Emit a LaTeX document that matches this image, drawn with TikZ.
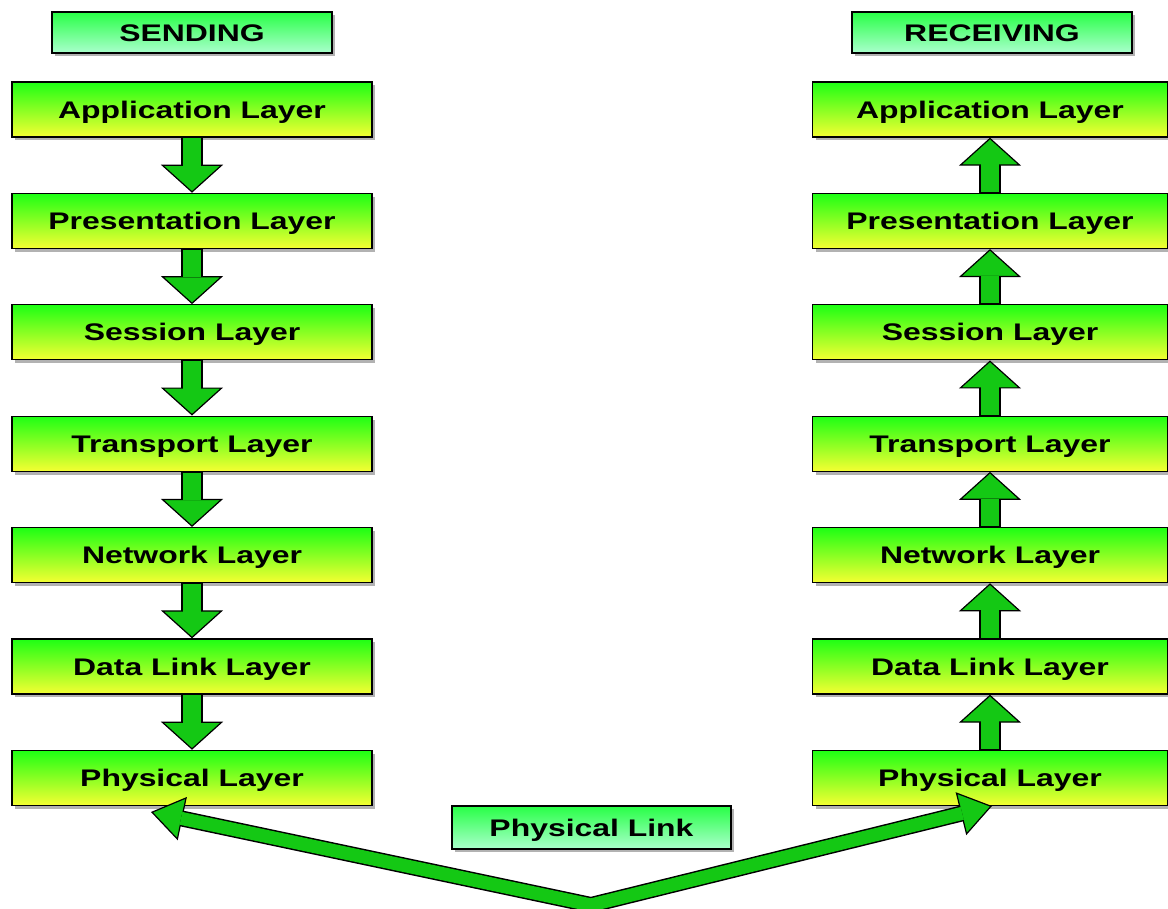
\documentclass[tikz,border=0pt]{standalone}
\usepackage{fontspec}
\newfontfamily\layerfont{Liberation Sans}[FakeStretch=1.33]
\usetikzlibrary{arrows.meta,calc,shadows}

\definecolor{layertop}{RGB}{30,255,20}
\definecolor{layerbot}{RGB}{245,255,50}
\definecolor{titletop}{RGB}{40,255,70}
\definecolor{titlebot}{RGB}{170,255,205}
\definecolor{arrowgreen}{RGB}{20,200,20}

\tikzset{
    boxshadow/.style={drop shadow={shadow xshift=2.5pt, shadow yshift=-2.5pt, fill=black, opacity=0.3}},
    layer/.style={draw, line width=1pt, boxshadow, top color=layertop, bottom color=layerbot,
        minimum width=270pt, minimum height=41.25pt, inner sep=0pt,
        text height=12.9pt, text depth=0pt,
        font={\fontsize{18pt}{20pt}\layerfont\bfseries}},
    title/.style={layer, top color=titletop, bottom color=titlebot,
        minimum width=210pt, minimum height=30.75pt},
}

% the block arrow between two layers
\newcommand{\blockarrow}[2]{%
    \draw[line width=16.5pt] (#1) -- ($(#2)!18pt!(#1)$);
    \draw[line width=0.9pt, -{Triangle[length=21pt, width=46.5pt, fill=arrowgreen]}] (#1) -- (#2);
    \draw[line width=14.2pt, arrowgreen, shorten <=0.6pt] (#1) -- ($(#2)!20pt!(#1)$);
}

\begin{document}
\begin{tikzpicture}[x=0.75pt, y=-0.75pt]
    \useasboundingbox (0,0) rectangle (1168,909);

    % The labels above the two stacks
    \node[title] (send) at (192, 32.5) {SENDING};
    \node[title] (recv) at (992, 32.5) {RECEIVING};

    % the layers of both stacks
    \foreach \name [count=\i from 0] in {Application, Presentation, Session, Transport, Network, Data Link, Physical} {
        \node[layer] (s\i) at (192, {109.5+111.4*\i}) {\name\ Layer};
        \node[layer, minimum width=266.25pt] (r\i) at (990, {109.5+111.4*\i}) {\name\ Layer};
    }

    % the arrows down (sending) and up (receiving)
    \foreach \i in {0,...,5} {
        \pgfmathtruncatemacro{\j}{\i+1}
        \blockarrow{s\i.south}{s\j.north}
        \blockarrow{r\j.north}{r\i.south}
    }

    % The label of the link
    \node[title, minimum width=209.25pt, minimum height=32.25pt] (link) at (591.5, 827.5) {Physical Link};

    % the V arrow below the link
    \coordinate (apex) at (591, 905);
    \coordinate (ltip) at (151, 812);
    \coordinate (rtip) at (992, 806);
    \draw[line width=12pt, line join=miter] ($(ltip)!20pt!(apex)$) -- (apex) -- ($(rtip)!20pt!(apex)$);
    \draw[line width=0.9pt, -{Triangle[length=24pt, width=33pt, fill=arrowgreen]}] (apex) -- (ltip);
    \draw[line width=0.9pt, -{Triangle[length=24pt, width=33pt, fill=arrowgreen]}] (apex) -- (rtip);
    \draw[line width=9.8pt, arrowgreen, line join=miter] ($(ltip)!23pt!(apex)$) -- (apex) -- ($(rtip)!23pt!(apex)$);
\end{tikzpicture}
\end{document}
